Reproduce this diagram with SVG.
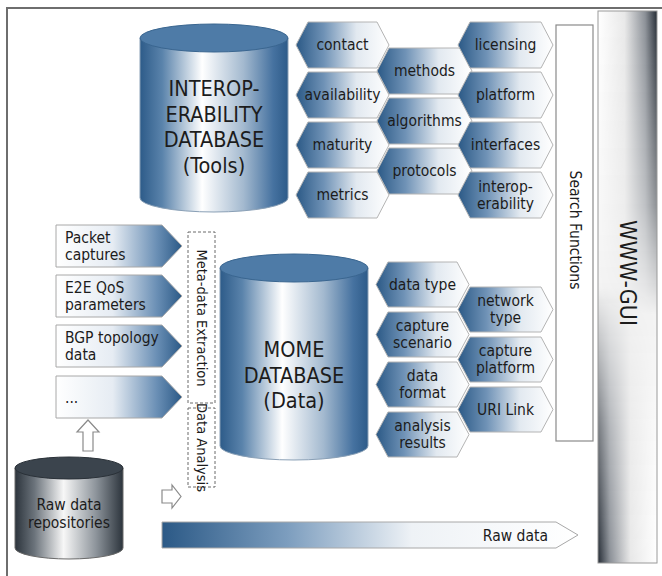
<svg xmlns="http://www.w3.org/2000/svg" width="662" height="576" viewBox="0 0 662 576">
<defs>
<linearGradient id="cylBlue" x1="0" y1="0" x2="1" y2="0">
<stop offset="0" stop-color="#2d5b89"/><stop offset="0.15" stop-color="#5a83ab"/><stop offset="0.42" stop-color="#ffffff"/><stop offset="0.7" stop-color="#a3b9cf"/><stop offset="0.9" stop-color="#4672a0"/><stop offset="1" stop-color="#2d5b89"/>
</linearGradient>
<linearGradient id="cylGray" x1="0" y1="0" x2="1" y2="0">
<stop offset="0" stop-color="#2c343c"/><stop offset="0.18" stop-color="#6b737b"/><stop offset="0.45" stop-color="#f7f7f7"/><stop offset="0.75" stop-color="#8d949b"/><stop offset="1" stop-color="#2c343c"/>
</linearGradient>
<linearGradient id="hexGrad" x1="0" y1="0" x2="1" y2="0">
<stop offset="0" stop-color="#2b5986"/><stop offset="0.3" stop-color="#6f92b6"/><stop offset="0.65" stop-color="#e2e9f0"/><stop offset="1" stop-color="#ffffff"/>
</linearGradient>
<linearGradient id="boxGrad" x1="0" y1="0" x2="1" y2="0">
<stop offset="0" stop-color="#ffffff"/><stop offset="0.45" stop-color="#e6ecf3"/><stop offset="0.8" stop-color="#6a8fb5"/><stop offset="1" stop-color="#2b5986"/>
</linearGradient>
<linearGradient id="barGrad" x1="0" y1="0" x2="1" y2="0">
<stop offset="0" stop-color="#2b5986"/><stop offset="0.3" stop-color="#7c9dbe"/><stop offset="0.6" stop-color="#eef2f6"/><stop offset="1" stop-color="#ffffff"/>
</linearGradient>
<linearGradient id="guiTop" x1="0" y1="0" x2="1" y2="0">
<stop offset="0" stop-color="#ffffff"/><stop offset="0.45" stop-color="#e8e8e8"/><stop offset="0.8" stop-color="#8a8f96"/><stop offset="1" stop-color="#252c35"/>
</linearGradient>
<linearGradient id="guiBot" x1="0" y1="0" x2="1" y2="0">
<stop offset="0" stop-color="#252c35"/><stop offset="0.2" stop-color="#8a8f96"/><stop offset="0.55" stop-color="#e8e8e8"/><stop offset="1" stop-color="#ffffff"/>
</linearGradient>
<linearGradient id="fadeDown" x1="0" y1="0" x2="0" y2="1">
<stop offset="0" stop-color="#fff"/><stop offset="0.35" stop-color="#fff" stop-opacity="0.5"/><stop offset="0.55" stop-color="#fff" stop-opacity="0"/><stop offset="1" stop-color="#fff" stop-opacity="0"/>
</linearGradient>
<linearGradient id="fadeUp" x1="0" y1="0" x2="0" y2="1">
<stop offset="0" stop-color="#fff" stop-opacity="0"/><stop offset="0.5" stop-color="#fff" stop-opacity="0"/><stop offset="0.75" stop-color="#fff" stop-opacity="0.6"/><stop offset="1" stop-color="#fff"/>
</linearGradient>
<mask id="mTop"><rect x="598" y="11" width="59" height="552" fill="url(#fadeDown)"/></mask>
<mask id="mBot"><rect x="598" y="11" width="59" height="552" fill="url(#fadeUp)"/></mask>
<style>
text{font-family:"DejaVu Sans Condensed","DejaVu Sans",sans-serif;fill:#1c1c1c}
.hex{fill:url(#hexGrad);stroke:#b4b4b4;stroke-width:1}
.box{fill:url(#boxGrad);stroke:#a8a8a8;stroke-width:1}
.ht{font-size:15.5px;text-anchor:middle}
.bt{font-size:15.5px}
.big{font-size:21.5px;text-anchor:middle}
.vt{font-size:14.5px;text-anchor:middle}
.dash{fill:none;stroke:#6a6a6a;stroke-width:1;stroke-dasharray:3 2}
.blk{fill:#fff;stroke:#8a8a8a;stroke-width:1.2}
</style>
</defs>
<rect x="0" y="0" width="662" height="576" fill="#fff"/>
<path d="M7,576 V8 H662" fill="none" stroke="#6e6e6e" stroke-width="2"/>

<g id="www-gui">
<rect x="598" y="11" width="59" height="552" fill="#f2f2f2"/>
<rect x="598" y="11" width="59" height="552" fill="url(#guiTop)" mask="url(#mTop)"/>
<rect x="598" y="11" width="59" height="552" fill="url(#guiBot)" mask="url(#mBot)"/>
<rect x="598" y="11" width="59" height="552" fill="none" stroke="#9a9a9a" stroke-width="1"/>
<text transform="translate(628,273) rotate(90)" font-size="23" text-anchor="middle" dominant-baseline="central">WWW-GUI</text>
</g>

<g id="search-functions">
<rect x="556" y="25" width="37" height="416" fill="#fff" stroke="#8a8a8a" stroke-width="1.2"/>
<text transform="translate(575,230) rotate(90)" font-size="15.5" text-anchor="middle" dominant-baseline="central">Search Functions</text>
</g>

<g id="interop-db">
<path d="M140,38 V198 A74,14 0 0 0 288,198 V38 Z" fill="url(#cylBlue)" stroke="#8aa0b6" stroke-width="1"/>
<ellipse cx="214" cy="38" rx="74" ry="14" fill="#4e7ba7" stroke="#3a6690" stroke-width="1"/>
<text class="big" x="214" y="96">INTEROP-</text>
<text class="big" x="214" y="121.5">ERABILITY</text>
<text class="big" x="214" y="147">DATABASE</text>
<text class="big" x="214" y="172.5">(Tools)</text>
</g>

<g id="mome-db">
<path d="M220,268 V446 A74,14 0 0 0 368,446 V268 Z" fill="url(#cylBlue)" stroke="#8aa0b6" stroke-width="1"/>
<ellipse cx="294" cy="268" rx="74" ry="14" fill="#4e7ba7" stroke="#3a6690" stroke-width="1"/>
<text class="big" x="294" y="357">MOME</text>
<text class="big" x="294" y="382.5">DATABASE</text>
<text class="big" x="294" y="408">(Data)</text>
</g>

<g id="raw-repos">
<path d="M15,468 V548 A54,11 0 0 0 123,548 V468 Z" fill="url(#cylGray)" stroke="#6a6a6a" stroke-width="1"/>
<ellipse cx="69" cy="468" rx="54" ry="11" fill="#3b444d" stroke="#2a3138" stroke-width="1"/>
<text x="69" y="510" font-size="15.5" text-anchor="middle">Raw data</text>
<text x="69" y="528" font-size="15.5" text-anchor="middle">repositories</text>
</g>

<!-- Interop hexagons -->
<g id="hex-contact"><polygon class="hex" points="296,45 308,22 377,22 389,45 377,68 308,68"/><text class="ht" x="342.5" y="50">contact</text></g>
<g id="hex-availability"><polygon class="hex" points="296,95 308,72 377,72 389,95 377,118 308,118"/><text class="ht" x="342.5" y="100">availability</text></g>
<g id="hex-maturity"><polygon class="hex" points="296,145 308,122 377,122 389,145 377,168 308,168"/><text class="ht" x="342.5" y="150">maturity</text></g>
<g id="hex-metrics"><polygon class="hex" points="296,195 308,172 377,172 389,195 377,218 308,218"/><text class="ht" x="342.5" y="200">metrics</text></g>
<g id="hex-methods"><polygon class="hex" points="377,71 389,48 460,48 472,71 460,94 389,94"/><text class="ht" x="424.5" y="76">methods</text></g>
<g id="hex-algorithms"><polygon class="hex" points="377,121 389,98 460,98 472,121 460,144 389,144"/><text class="ht" x="424.5" y="126">algorithms</text></g>
<g id="hex-protocols"><polygon class="hex" points="377,171 389,148 460,148 472,171 460,194 389,194"/><text class="ht" x="424.5" y="176">protocols</text></g>
<g id="hex-licensing"><polygon class="hex" points="458,45 470,22 541,22 553,45 541,68 470,68"/><text class="ht" x="505.5" y="50">licensing</text></g>
<g id="hex-platform"><polygon class="hex" points="458,95 470,72 541,72 553,95 541,118 470,118"/><text class="ht" x="505.5" y="100">platform</text></g>
<g id="hex-interfaces"><polygon class="hex" points="458,145 470,122 541,122 553,145 541,168 470,168"/><text class="ht" x="505.5" y="150">interfaces</text></g>
<g id="hex-interoperability"><polygon class="hex" points="458,195 470,172 541,172 553,195 541,218 470,218"/><text class="ht" x="505.5" y="192">interop-</text><text class="ht" x="505.5" y="209">erability</text></g>

<!-- MOME hexagons -->
<g id="hex-data-type"><polygon class="hex" points="376,284.5 388,262 457,262 469,284.5 457,307 388,307"/><text class="ht" x="422.5" y="290">data type</text></g>
<g id="hex-capture-scenario"><polygon class="hex" points="376,334.5 388,312 457,312 469,334.5 457,357 388,357"/><text class="ht" x="422.5" y="331">capture</text><text class="ht" x="422.5" y="348">scenario</text></g>
<g id="hex-data-format"><polygon class="hex" points="376,384.5 388,362 457,362 469,384.5 457,407 388,407"/><text class="ht" x="422.5" y="381">data</text><text class="ht" x="422.5" y="398">format</text></g>
<g id="hex-analysis-results"><polygon class="hex" points="376,434.5 388,412 457,412 469,434.5 457,457 388,457"/><text class="ht" x="422.5" y="431">analysis</text><text class="ht" x="422.5" y="448">results</text></g>
<g id="hex-network-type"><polygon class="hex" points="458,309.5 470,287 541,287 553,309.5 541,332 470,332"/><text class="ht" x="505.5" y="306">network</text><text class="ht" x="505.5" y="323">type</text></g>
<g id="hex-capture-platform"><polygon class="hex" points="458,359.5 470,337 541,337 553,359.5 541,382 470,382"/><text class="ht" x="505.5" y="356">capture</text><text class="ht" x="505.5" y="373">platform</text></g>
<g id="hex-uri-link"><polygon class="hex" points="458,409.5 470,387 541,387 553,409.5 541,432 470,432"/><text class="ht" x="505.5" y="415">URI Link</text></g>

<!-- inputs -->
<g id="in-packet"><polygon class="box" points="56,225 162,225 182,246 162,267 56,267"/><text class="bt" x="65" y="243">Packet</text><text class="bt" x="65" y="260">captures</text></g>
<g id="in-e2e"><polygon class="box" points="56,275 162,275 182,296 162,317 56,317"/><text class="bt" x="65" y="293">E2E QoS</text><text class="bt" x="65" y="310">parameters</text></g>
<g id="in-bgp"><polygon class="box" points="56,325 162,325 182,346 162,367 56,367"/><text class="bt" x="65" y="343">BGP topology</text><text class="bt" x="65" y="360">data</text></g>
<g id="in-more"><polygon class="box" points="56,376 162,376 182,397 162,418 56,418"/><text class="bt" x="65" y="403">...</text></g>

<g id="meta-extraction">
<rect class="dash" x="188" y="232" width="27" height="171"/>
<text class="vt" transform="translate(201.5,318) rotate(90)" dominant-baseline="central">Meta-data Extraction</text>
</g>
<g id="data-analysis">
<rect class="dash" x="188" y="408" width="27" height="79"/>
<text class="vt" transform="translate(201.5,447.5) rotate(90)" dominant-baseline="central">Data Analysis</text>
</g>

<g id="connectors">
<polygon class="blk" points="88,420 99,432 93,432 93,451 83,451 83,432 77,432"/>
<polygon class="blk" points="162,490 172,490 172,485 181,496.5 172,508 172,503 162,503"/>
<g id="raw-data-arrow">
<polygon points="162,522 556,522 578,535 556,548 162,548" fill="url(#barGrad)" stroke="#a8a8a8" stroke-width="1"/>
<text x="548" y="541" font-size="15.5" text-anchor="end">Raw data</text>
</g>
</g>
</svg>
